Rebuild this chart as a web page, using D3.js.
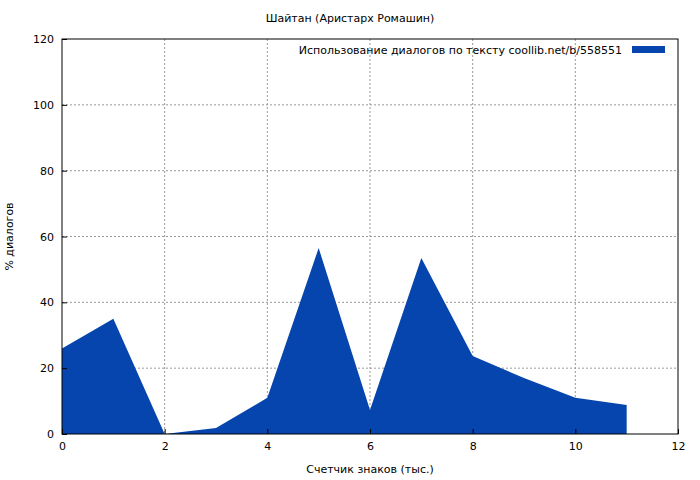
<!DOCTYPE html>
<html><head><meta charset="utf-8">
<script src="https://cdn.jsdelivr.net/npm/d3@7"></script>
<style>body{margin:0;background:#fff}text{font-family:"DejaVu Sans",sans-serif;font-size:11px;fill:#000}</style>
</head><body><div id="chart"></div>
<script>
const xs = [0,1,2,3,4,5,6,7,8,9,10,11];
const vals = [26,35,0,1.8,11,56.5,7.3,53.5,23.7,17,11,8.8];
const xTicks = [0,2,4,6,8,10,12];
const yTicks = [0,20,40,60,80,100,120];

const W=700,H=480, m={top:39,right:22,bottom:46,left:62};
const w=W-m.left-m.right, h=H-m.top-m.bottom;
const svg=d3.select("#chart").append("svg").attr("width",W).attr("height",H);
const g=svg.append("g").attr("transform",`translate(${m.left},${m.top})`);
const x=d3.scaleLinear().domain([0,12]).range([0,w]);
const y=d3.scaleLinear().domain([0,120]).range([h,0]);

// grid
g.selectAll(".gx").data(xTicks.slice(1,-1)).enter().append("line")
 .attr("x1",d=>x(d)).attr("x2",d=>x(d)).attr("y1",0).attr("y2",h)
 .attr("stroke","#999").attr("stroke-dasharray","2,2");
g.selectAll(".gy").data(yTicks.slice(1,-1)).enter().append("line")
 .attr("y1",d=>y(d)).attr("y2",d=>y(d)).attr("x1",0).attr("x2",w)
 .attr("stroke","#999").attr("stroke-dasharray","2,2");

const area=d3.area().x((d,i)=>x(xs[i])).y0(h).y1(d=>y(d));
g.append("path").datum(vals).attr("d",area).attr("fill","#0645ad");

g.append("rect").attr("width",w).attr("height",h).attr("fill","none").attr("stroke","#000");
g.append("g").attr("transform",`translate(0,${h})`)
 .call(d3.axisBottom(x).tickValues(xTicks).tickSize(-5).tickPadding(8))
 .call(a=>a.select(".domain").remove());
g.append("g").call(d3.axisLeft(y).tickValues(yTicks).tickSize(-5).tickPadding(8))
 .call(a=>a.select(".domain").remove());
g.selectAll(".tick text").style("font-size","11px").style("font-family","DejaVu Sans");

svg.append("text").attr("x",W/2).attr("y",22).attr("text-anchor","middle").text("Шайтан (Аристарх Ромашин)");
svg.append("text").attr("x",m.left+w/2).attr("y",473).attr("text-anchor","middle").text("Счетчик знаков (тыс.)");
svg.append("text").attr("transform",`translate(13,${m.top+h/2}) rotate(-90)`).attr("text-anchor","middle").text("% диалогов");

svg.append("text").attr("x",622).attr("y",54).attr("text-anchor","end").text("Использование диалогов по тексту  coollib.net/b/558551");
svg.append("rect").attr("x",632).attr("y",46).attr("width",33).attr("height",7).attr("fill","#0645ad");
</script></body></html>
